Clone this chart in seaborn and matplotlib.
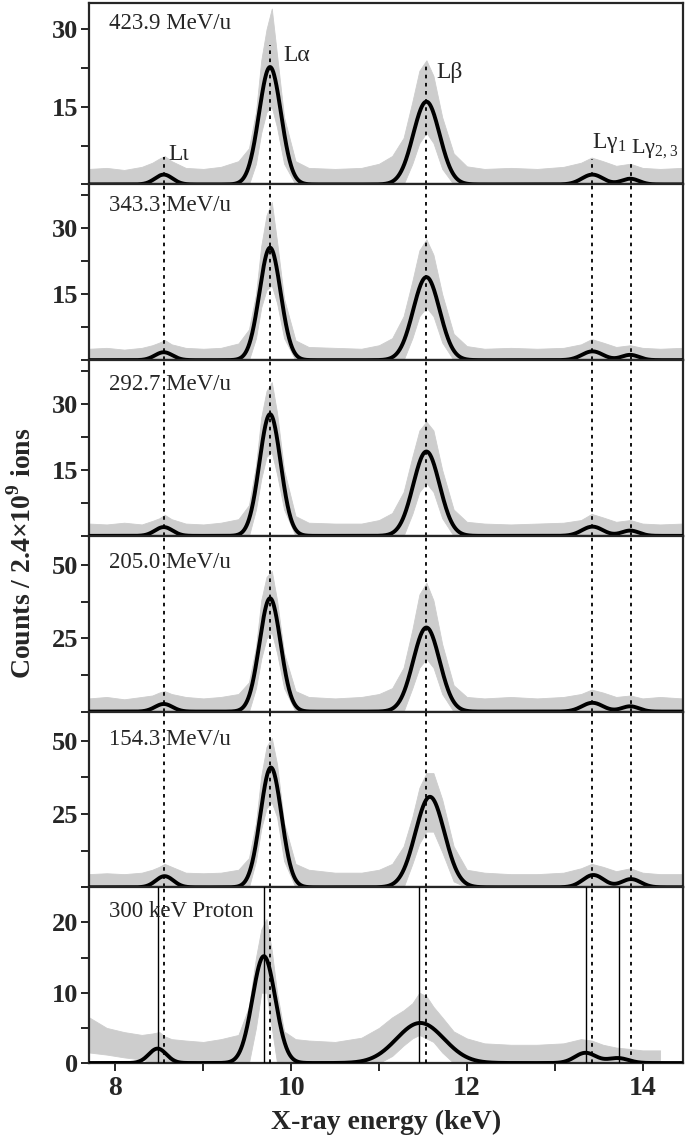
import numpy as np
import pandas as pd
import matplotlib
matplotlib.use("Agg")
import matplotlib.pyplot as plt
from matplotlib.ticker import MultipleLocator, FixedLocator
import seaborn as sns

# ── Panel metadata ───────────────────────────────────────────────────────────
PANEL_LABELS = ["423.9 MeV/u", "343.3 MeV/u", "292.7 MeV/u",
                "205.0 MeV/u", "154.3 MeV/u", "300 keV Proton"]
Y_MAX = [35, 40, 40, 60, 60, 25]
Y_TICKS = [[15, 30], [15, 30], [15, 30], [25, 50], [25, 50], [0, 10, 20]]
Y_MINOR = [7.5, 7.5, 7.5, 12.5, 12.5, 5]
LABEL_Y = [0.89, 0.88, 0.86, 0.85, 0.84, 0.86]

# ── Line positions (keV) ─────────────────────────────────────────────────────
PEAK_NAMES = ["L\u03b9", "L\u03b1", "L\u03b2",
              r"L$\mathregular{\gamma_{1}}$", r"L$\mathregular{\gamma_{2,3}}$"]
ION_LINES = [8.55, 9.76, 11.54, 13.43, 13.87]
ION_LINE_TOP = [5.3, 27.0, 23.5, 5.0, 4.3]          # top panel only
PROTON_LINES = [8.48, 9.69, 11.45, 13.36, 13.73]
NAME_X = [8.60, 9.91, 11.65, 13.42, 13.87]
NAME_Y = [5.8, 24.9, 21.6, 8.0, 6.9]

# ── Fitted peaks: centres, heights, widths (sigma) per panel ─────────────────
PEAK_CENTERS = [
    [8.55, 9.76, 11.54, 13.43, 13.86],
    [8.55, 9.76, 11.54, 13.43, 13.86],
    [8.55, 9.76, 11.54, 13.43, 13.86],
    [8.55, 9.76, 11.54, 13.43, 13.86],
    [8.56, 9.77, 11.58, 13.44, 13.87],
    [8.48, 9.69, 11.47, 13.35, 13.72],
]
PEAK_HEIGHTS = [
    [1.9, 22.7, 16.0, 1.9, 1.1],
    [1.8, 25.6, 18.9, 2.0, 1.2],
    [2.0, 27.7, 19.2, 2.1, 1.2],
    [2.6, 38.7, 28.7, 3.0, 1.8],
    [3.8, 40.9, 30.9, 4.2, 2.8],
    [2.05, 15.2, 5.7, 1.45, 0.7],
]
PEAK_SIGMAS = [
    [0.10, 0.125, 0.15, 0.12, 0.10],
    [0.10, 0.12, 0.15, 0.12, 0.10],
    [0.10, 0.12, 0.15, 0.12, 0.10],
    [0.10, 0.12, 0.15, 0.12, 0.10],
    [0.10, 0.12, 0.165, 0.12, 0.11],
    [0.10, 0.13, 0.27, 0.12, 0.12],
]

# ── Measured spectra (grey): envelope read at these energies ─────────────────
ENERGY_KNOTS = [7.70, 7.90, 8.10, 8.30, 8.42, 8.50, 8.56, 8.64, 8.80, 9.00,
                9.20, 9.40, 9.52, 9.60, 9.66, 9.72, 9.78, 9.84, 9.92, 10.05,
                10.20, 10.50, 10.80, 11.00, 11.15, 11.28, 11.38, 11.46, 11.54, 11.62,
                11.72, 11.85, 12.00, 12.20, 12.50, 12.80, 13.10, 13.30, 13.42, 13.55,
                13.70, 13.86, 14.00, 14.20, 14.45]

GRAY_HI_1 = [3.0, 3.2, 2.8, 3.4, 4.2, 5.0, 5.5, 4.5, 3.2, 3.0,
             3.4, 4.5, 7.0, 14, 24, 30, 34, 25, 13, 4.5,
             3.2, 3.0, 3.2, 4.0, 5.5, 9, 16, 22, 24, 21,
             13, 6, 3.5, 3.0, 3.2, 3.0, 3.4, 4.2, 5.2, 4.5,
             3.6, 4.0, 3.2, 3.0, 3.2]
GRAY_LO_1 = [0, 0, 0, 0, 0, 0, 0, 0, 0, 0,
             0, 0, 0, 4, 10, 14, 15, 11, 4, 0,
             0, 0, 0, 0, 0, 0, 4, 8, 10, 8,
             3, 0, 0, 0, 0, 0, 0, 0, 0, 0,
             0, 0, 0, 0, 0]

GRAY_HI_2 = [2.6, 2.8, 2.4, 2.8, 3.4, 4.0, 4.6, 3.6, 2.8, 2.6,
             2.8, 3.8, 7, 15, 26, 33, 36, 27, 14, 4.5,
             3.0, 2.8, 2.6, 3.4, 5, 10, 18, 25, 27.5, 24,
             15, 6, 3.2, 2.6, 2.8, 2.6, 2.8, 3.6, 4.8, 4.0,
             3.0, 3.4, 2.8, 2.6, 2.8]
GRAY_LO_2 = [0, 0, 0, 0, 0, 0, 0, 0, 0, 0,
             0, 0, 0, 5, 12, 16, 17, 13, 5, 0,
             0, 0, 0, 0, 0, 0, 5, 10, 12, 10,
             4, 0, 0, 0, 0, 0, 0, 0, 0, 0,
             0, 0, 0, 0, 0]

GRAY_HI_3 = [2.8, 2.6, 3.0, 2.6, 3.4, 4.0, 4.8, 3.8, 2.8, 2.6,
             3.0, 3.8, 7, 16, 27, 33, 35, 28, 15, 4.5,
             3.0, 2.8, 2.8, 3.6, 5.2, 10, 18, 24, 26, 24,
             15, 6, 3.2, 2.8, 2.6, 2.8, 3.0, 3.6, 5.0, 4.2,
             3.2, 3.6, 2.8, 2.6, 2.8]
GRAY_LO_3 = [0, 0, 0, 0, 0, 0, 0, 0, 0, 0,
             0, 0, 0, 6, 13, 18, 19, 14, 6, 0,
             0, 0, 0, 0, 0, 0, 5, 10, 12, 10,
             4, 0, 0, 0, 0, 0, 0, 0, 0, 0,
             0, 0, 0, 0, 0]

GRAY_HI_4 = [4.5, 5.0, 4.2, 5.0, 5.5, 6.5, 7, 6, 5, 4.5,
             5.0, 6, 10, 22, 38, 46, 48, 38, 20, 7,
             5, 4.5, 5, 6, 8, 15, 28, 40, 44, 38,
             23, 9, 5, 4.5, 5, 4.5, 5, 6, 7.5, 6.5,
             5, 5.5, 4.5, 5, 4.5]
GRAY_LO_4 = [0, 0, 0, 0, 0, 0, 0, 0, 0, 0,
             0, 0, 0, 8, 18, 25, 27, 20, 8, 0,
             0, 0, 0, 0, 0, 0, 8, 15, 18, 15,
             6, 0, 0, 0, 0, 0, 0, 0, 0, 0,
             0, 0, 0, 0, 0]

GRAY_HI_5 = [4.5, 4.8, 4.5, 5.0, 6, 7, 8, 7, 5, 4.8,
             5, 6, 10, 22, 38, 48, 51, 42, 22, 8,
             6, 5, 5, 6, 8, 14, 24, 34, 39, 39,
             30, 14, 6, 5, 4.5, 4.5, 5, 6.5, 8, 7,
             5.5, 6.5, 5, 4.5, 4.5]
GRAY_LO_5 = [0, 0, 0, 0, 0, 0, 0, 0, 0, 0,
             0, 0, 0, 9, 20, 27, 29, 24, 9, 0,
             0, 0, 0, 0, 0, 0, 8, 15, 19, 19,
             12, 2, 0, 0, 0, 0, 0, 0, 0, 0,
             0, 0, 0, 0, 0]

GRAY_HI_6 = [6.5, 5.0, 4.4, 4.0, 4.2, 4.4, 3.8, 3.4, 3.2, 3.0,
             3.4, 4.0, 8, 15, 19, 20.5, 16, 10, 4.5, 3.4,
             3.2, 3.0, 3.6, 5, 6.5, 7.5, 8.5, 10, 9.5, 8,
             6.5, 4.5, 3.5, 2.8, 2.6, 2.6, 2.8, 3.4, 3.2, 2.6,
             2.2, 2.0, 1.8, 1.8, np.nan]
GRAY_LO_6 = [1.5, 1.2, 0.8, 0.5, 0, 0, 0, 0, 0, 0,
             0, 0, 0, 5, 10, 10, 5, 0, 0, 0,
             0, 0, 0, 0, 1, 2.5, 3.5, 4, 3.5, 3,
             1.5, 0, 0, 0, 0, 0, 0, 0, 0, 0,
             0, 0, 0, 0, np.nan]

GRAY_HI = [GRAY_HI_1, GRAY_HI_2, GRAY_HI_3, GRAY_HI_4, GRAY_HI_5, GRAY_HI_6]
GRAY_LO = [GRAY_LO_1, GRAY_LO_2, GRAY_LO_3, GRAY_LO_4, GRAY_LO_5, GRAY_LO_6]

X_MIN, X_MAX = 7.70, 14.46

# ── Style ─────────────────────────────────────────────────────────────────────
sns.set_style("ticks")
plt.rcParams["font.family"] = ["Liberation Serif", "DejaVu Serif"]
plt.rcParams["mathtext.fontset"] = "custom"
plt.rcParams["mathtext.rm"] = "Liberation Serif"
plt.rcParams["axes.linewidth"] = 1.6

GREY = "#cdcdcd"

fig, axes = plt.subplots(6, 1, figsize=(6.85, 11.45), dpi=100, sharex=True,
                         gridspec_kw=dict(height_ratios=[1.03, 1, 1, 1, 1, 1]))
fig.subplots_adjust(left=0.130, right=0.997, top=0.997, bottom=0.0716, hspace=0)

energy = np.linspace(X_MIN, X_MAX, 1500)

for i, ax in enumerate(axes):
    # grey measured spectrum band
    ax.fill_between(ENERGY_KNOTS, GRAY_LO[i], GRAY_HI[i], color=GREY, lw=0.6,
                    edgecolor=GREY, zorder=1)

    # fitted peaks (sum of gaussians)
    fit = np.zeros_like(energy)
    for c, h, s in zip(PEAK_CENTERS[i], PEAK_HEIGHTS[i], PEAK_SIGMAS[i]):
        fit += h * np.exp(-0.5 * ((energy - c) / s) ** 2)
    df = pd.DataFrame({"E": energy, "counts": fit})
    sns.lineplot(data=df, x="E", y="counts", color="black", lw=2.8, ax=ax,
                 zorder=4, estimator=None, sort=False)

    # reference lines
    if i == 0:
        ax.vlines(ION_LINES, 0, ION_LINE_TOP, colors="black", lw=1.3,
                  linestyles=(0, (2, 2.5)), zorder=3)
        for k, (name, nx, ny) in enumerate(zip(PEAK_NAMES, NAME_X, NAME_Y)):
            ax.text(nx, ny, name, fontsize=16 if k == 4 else 17,
                    ha="left", va="center")
    else:
        for xl in ION_LINES:
            ax.axvline(xl, color="black", lw=1.3, ls=(0, (2, 2.5)), zorder=3)
    if i == 5:
        for xl in PROTON_LINES:
            ax.axvline(xl, color="black", lw=1.0, zorder=3)

    ax.text(0.034, LABEL_Y[i], PANEL_LABELS[i], transform=ax.transAxes,
            fontsize=16.5, ha="left", va="center")

    ax.set_xlim(X_MIN, X_MAX)
    ax.set_ylim(0, Y_MAX[i])
    ax.yaxis.set_major_locator(FixedLocator(Y_TICKS[i]))
    ax.yaxis.set_minor_locator(MultipleLocator(Y_MINOR[i]))
    ax.tick_params(axis="y", which="major", direction="out", length=6, width=1.4,
                   labelsize=19, pad=2)
    ax.tick_params(axis="y", which="minor", direction="out", length=6, width=1.4)
    for lab in ax.get_yticklabels():
        lab.set_fontweight("bold")
    ax.set_ylabel("")
    ax.set_xlabel("")
    for sp in ax.spines.values():
        sp.set_visible(True)
        sp.set_linewidth(1.6)
    if i < 5:
        ax.tick_params(axis="x", which="both", bottom=False, labelbottom=False)

bot = axes[-1]
bot.xaxis.set_major_locator(MultipleLocator(2))
bot.xaxis.set_minor_locator(MultipleLocator(1))
bot.tick_params(axis="x", which="both", direction="out", length=6, width=1.4,
                labelsize=20)
for lab in bot.get_xticklabels():
    lab.set_fontweight("bold")
bot.set_xlabel("X-ray energy (keV)", fontsize=20, fontweight="bold", labelpad=6)

fig.text(0.032, 0.517, r"Counts / 2.4×10$^{\mathregular{9}}$ ions", rotation=90,
         fontsize=20, fontweight="bold", ha="center", va="center")

fig.savefig("out.png", dpi=100)
